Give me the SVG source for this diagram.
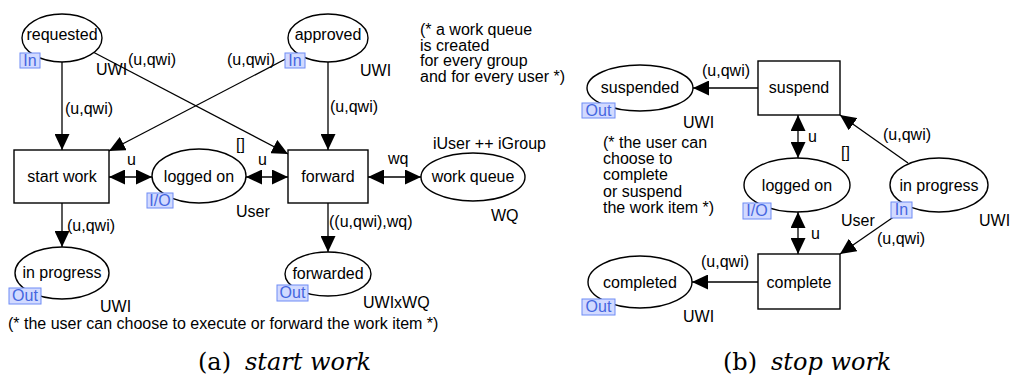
<svg xmlns="http://www.w3.org/2000/svg" width="1010" height="380" viewBox="0 0 1010 380">
<style>
text{font-family:"Liberation Sans",Arial,sans-serif;font-size:16px;fill:#000}
.c{text-anchor:middle}
.shape{fill:#fff;stroke:#000;stroke-width:1.4}
.tag rect{fill:#d2daff;stroke:#6f8cf5;stroke-width:1}
.tag text{fill:#4566e0;text-anchor:middle}
.arc{stroke:#000;stroke-width:1.3;fill:none;marker-end:url(#ah)}
.dbl{marker-start:url(#ah)}
.cap{font-family:"DejaVu Serif","Liberation Serif",serif;font-size:24px}
.it{font-style:italic}
</style>
<defs>
<marker id="ah" viewBox="0 0 16 15" refX="16" refY="7.5" markerWidth="16" markerHeight="15" markerUnits="userSpaceOnUse" orient="auto-start-reverse">
<path d="M0,0 L16,7.5 L0,15 z" fill="#000"/>
</marker>
</defs>
<rect width="1010" height="380" fill="#fff"/>

<g id="connectors">
<line class="arc" x1="62" y1="62" x2="62" y2="150"/>
<line class="arc" x1="93" y1="52" x2="288" y2="154"/>
<line class="arc" x1="297" y1="53" x2="109" y2="151"/>
<line class="arc" x1="328" y1="62" x2="328" y2="150"/>
<line class="arc dbl" x1="109" y1="177" x2="152" y2="177"/>
<line class="arc dbl" x1="246" y1="177" x2="288" y2="177"/>
<line class="arc dbl" x1="368" y1="177" x2="421" y2="177"/>
<line class="arc" x1="328" y1="203" x2="328" y2="252"/>
<line class="arc" x1="62" y1="203" x2="62" y2="247"/>
<line class="arc" x1="758" y1="88" x2="693" y2="88"/>
<line class="arc dbl" x1="798" y1="115" x2="798" y2="158"/>
<line class="arc" x1="908" y1="163" x2="840" y2="115"/>
<line class="arc" x1="908" y1="207" x2="840" y2="254"/>
<line class="arc dbl" x1="798" y1="212" x2="798" y2="254"/>
<line class="arc" x1="758" y1="282" x2="692" y2="282"/>
<text x="128" y="65">(u,qwi)</text>
<text x="227" y="65">(u,qwi)</text>
<text x="65" y="114">(u,qwi)</text>
<text x="330" y="112">(u,qwi)</text>
<text x="236" y="150">[]</text>
<text x="127" y="165">u</text>
<text x="258" y="165">u</text>
<text x="388" y="164">wq</text>
<text x="67" y="231">(u,qwi)</text>
<text x="329" y="227">((u,qwi),wq)</text>
<text x="702" y="76">(u,qwi)</text>
<text x="808" y="142">u</text>
<text x="841" y="158">[]</text>
<text x="883" y="140">(u,qwi)</text>
<text x="877" y="244">(u,qwi)</text>
<text x="811" y="239">u</text>
<text x="701" y="267">(u,qwi)</text>
</g>

<g id="requested">
<ellipse class="shape" cx="62" cy="38" rx="40" ry="24"/>
<text class="c" x="62" y="40">requested</text>
<g class="tag"><rect x="20" y="53" width="20" height="15"/><text x="30" y="66">In</text></g>
<text x="96" y="75">UWI</text>
</g>
<g id="approved">
<ellipse class="shape" cx="328" cy="38" rx="40" ry="24"/>
<text class="c" x="328" y="40">approved</text>
<g class="tag"><rect x="285" y="53" width="20" height="15"/><text x="295" y="66">In</text></g>
<text x="360" y="76">UWI</text>
</g>
<g id="start_work">
<rect class="shape" x="14" y="150" width="95" height="53"/>
<text class="c" x="62" y="182">start work</text>
</g>
<g id="logged_on_a">
<ellipse class="shape" cx="199" cy="176" rx="47" ry="27"/>
<text class="c" x="199" y="182">logged on</text>
<g class="tag"><rect x="147" y="193" width="26" height="15"/><text x="160" y="206">I/O</text></g>
<text x="236" y="217">User</text>
</g>
<g id="forward">
<rect class="shape" x="288" y="150" width="80" height="53"/>
<text class="c" x="328" y="182">forward</text>
</g>
<g id="work_queue">
<ellipse class="shape" cx="473" cy="177" rx="52" ry="24"/>
<text class="c" x="473" y="182">work queue</text>
<text x="433" y="149">iUser ++ iGroup</text>
<text x="491" y="221">WQ</text>
</g>
<g id="forwarded">
<ellipse class="shape" cx="328" cy="274" rx="43" ry="22"/>
<text class="c" x="328" y="279">forwarded</text>
<g class="tag"><rect x="277" y="285" width="31" height="16"/><text x="292.5" y="298">Out</text></g>
<text x="363" y="308">UWIxWQ</text>
</g>
<g id="in_progress_a">
<ellipse class="shape" cx="62" cy="273" rx="47" ry="26"/>
<text class="c" x="62" y="278">in progress</text>
<g class="tag"><rect x="9" y="288" width="32" height="16"/><text x="25" y="301">Out</text></g>
<text x="100" y="312">UWI</text>
</g>
<g id="comment_a">
<text x="420" y="35">(* a work queue</text>
<text x="420" y="51">is created</text>
<text x="420" y="66">for every group</text>
<text x="420" y="82">and for every user *)</text>
<text x="8" y="329">(* the user can choose to execute or forward the work item *)</text>
</g>

<g id="suspended">
<ellipse class="shape" cx="640" cy="88" rx="53" ry="23"/>
<text class="c" x="640" y="93">suspended</text>
<g class="tag"><rect x="582" y="103" width="33" height="15"/><text x="598.5" y="116">Out</text></g>
<text x="683" y="128">UWI</text>
</g>
<g id="suspend">
<rect class="shape" x="758" y="61" width="82" height="54"/>
<text class="c" x="799" y="93">suspend</text>
</g>
<g id="logged_on_b">
<ellipse class="shape" cx="797" cy="185" rx="53" ry="27"/>
<text class="c" x="797" y="191">logged on</text>
<g class="tag"><rect x="743" y="203" width="28" height="16"/><text x="757" y="216">I/O</text></g>
<text x="841" y="226">User</text>
</g>
<g id="in_progress_b">
<ellipse class="shape" cx="939" cy="185" rx="49" ry="27"/>
<text class="c" x="939" y="191">in progress</text>
<g class="tag"><rect x="891" y="202" width="21" height="16"/><text x="901.5" y="215">In</text></g>
<text x="979" y="226">UWI</text>
</g>
<g id="complete">
<rect class="shape" x="758" y="254" width="82" height="55"/>
<text class="c" x="799" y="288">complete</text>
</g>
<g id="completed">
<ellipse class="shape" cx="640" cy="282" rx="52" ry="26"/>
<text class="c" x="640" y="288">completed</text>
<g class="tag"><rect x="582" y="299" width="33" height="16"/><text x="598.5" y="312">Out</text></g>
<text x="683" y="322">UWI</text>
</g>
<g id="comment_b">
<text x="603" y="148">(* the user can</text>
<text x="603" y="164">choose to</text>
<text x="603" y="180">complete</text>
<text x="603" y="197">or suspend</text>
<text x="603" y="213">the work item *)</text>
</g>

<g id="captions">
<text class="cap" x="198" y="370">(a)</text>
<text class="cap it" x="245" y="370">start work</text>
<text class="cap" x="723" y="370">(b)</text>
<text class="cap it" x="771" y="370">stop work</text>
</g>
</svg>
